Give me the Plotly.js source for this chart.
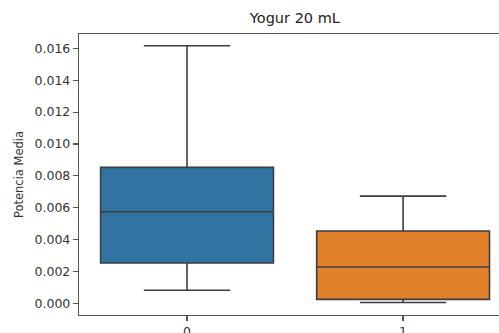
<!DOCTYPE html>
<html>
<head>
<meta charset="utf-8">
<script src="https://cdn.plot.ly/plotly-3.0.1.min.js"></script>
<style>html,body{margin:0;padding:0;background:#fff;}#chart{width:499px;height:333px;}</style>
</head>
<body>
<div id="chart"></div>
<script>
var categories = [0, 1];
var lowerFence = [0.00082, 0.00005];
var q1Values = [0.00253, 0.00025];
var medians = [0.00575, 0.00228];
var q3Values = [0.00853, 0.00454];
var upperFence = [0.01616, 0.00673];
var colors = ['#3274a1', '#e1812c'];
var tickVals = [0, 0.002, 0.004, 0.006, 0.008, 0.010, 0.012, 0.014, 0.016];
var tickText = ['0.000', '0.002', '0.004', '0.006', '0.008', '0.010', '0.012', '0.014', '0.016'];

var traces = categories.map(function (c, i) {
  return {
    type: 'box',
    x: [c],
    q1: [q1Values[i]],
    median: [medians[i]],
    q3: [q3Values[i]],
    lowerfence: [lowerFence[i]],
    upperfence: [upperFence[i]],
    width: 0.8,
    whiskerwidth: 0.5,
    fillcolor: colors[i],
    line: {color: '#3d3d3d', width: 1.6},
    hoverinfo: 'skip',
    showlegend: false
  };
});

var layout = {
  width: 499, height: 333,
  margin: {l: 79, r: 0, t: 34, b: 18},
  paper_bgcolor: '#fff', plot_bgcolor: '#fff',
  font: {family: 'DejaVu Sans', color: '#333'},
  title: {text: 'Yogur 20 mL', font: {size: 14.5, color: '#222'}, x: 0.514, xref: 'paper', xanchor: 'center', y: 0.945, yanchor: 'middle'},
  showlegend: false,
  xaxis: {
    range: [-0.5, 1.444], tickvals: categories, ticktext: ['0', '1'],
    showgrid: false, zeroline: false, showline: true, mirror: true,
    linecolor: '#555', linewidth: 1.2,
    ticks: 'outside', ticklen: 5, tickcolor: '#555', tickwidth: 1.2,
    tickfont: {size: 12.5, color: '#333'}
  },
  yaxis: {
    range: [-0.00073, 0.0169], tickvals: tickVals, ticktext: tickText,
    showgrid: false, zeroline: false, showline: true,
    linecolor: '#555', linewidth: 1.2,
    ticks: 'outside', ticklen: 5, tickcolor: '#555', tickwidth: 1.2,
    tickfont: {size: 12.5, color: '#333'},
    title: {text: 'Potencia Media', font: {size: 11.5, color: '#333'}, standoff: 8}
  }
};

Plotly.newPlot('chart', traces, layout, {displayModeBar: false, staticPlot: true});
</script>
</body>
</html>
